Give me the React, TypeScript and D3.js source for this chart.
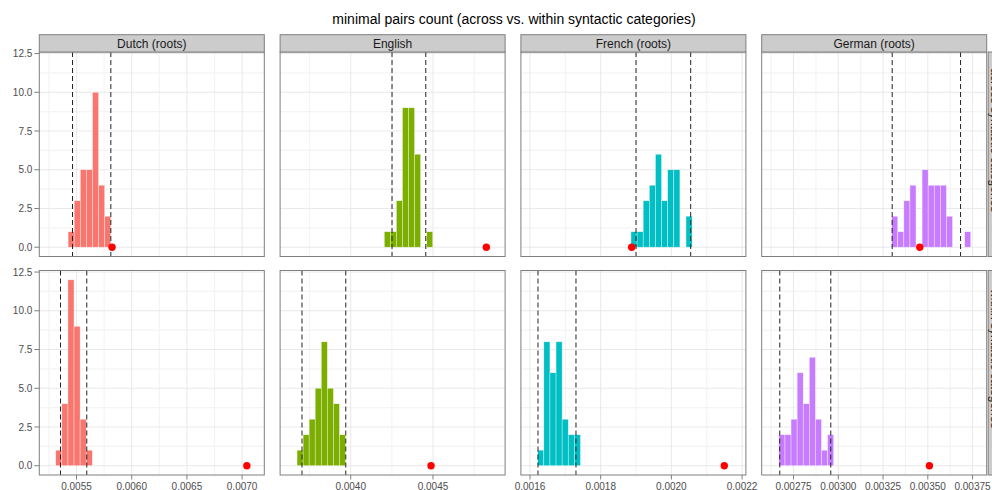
import React from "react";
import * as d3 from "d3";

// ---------- data ----------
const languages = ["Dutch (roots)", "English", "French (roots)", "German (roots)"];
const colors = ["#F8766D", "#7CAE00", "#00BFC4", "#C77CFF"];
const rowLabels = ["across syntactic categories", "within syntactic categories"];
const yTicks = [0, 2.5, 5, 7.5, 10, 12.5];
const yTickLabels = ["0.0", "2.5", "5.0", "7.5", "10.0", "12.5"];

const xDomains = [
  [0.005163, 0.007201],
  [0.003571, 0.004938],
  [0.0015743, 0.0022108],
  [0.002572, 0.003829],
];
const xTicks = [
  [0.0055, 0.006, 0.0065, 0.007],
  [0.004, 0.0045],
  [0.0016, 0.0018, 0.002, 0.0022],
  [0.00275, 0.003, 0.00325, 0.0035, 0.00375],
];
const xTickLabels = [
  ["0.0055", "0.0060", "0.0065", "0.0070"],
  ["0.0040", "0.0045"],
  ["0.0016", "0.0018", "0.0020", "0.0022"],
  ["0.00275", "0.00300", "0.00325", "0.00350", "0.00375"],
];
const binWidths = [0.0000552, 0.0000368, 0.0000173, 0.000034];

// row 0: across, row 1: within
const binStarts = [
  [0.005424, 0.004204, 0.0018857, 0.003298],
  [0.005312, 0.003674, 0.0016218, 0.002668],
];
const binCounts = [
  [
    [1, 3, 5, 5, 10, 4, 2],
    [1, 1, 3, 9, 9, 6, 0, 1],
    [1, 1, 3, 4, 6, 3, 5, 5, 0, 2],
    [2, 1, 3, 4, 0, 5, 4, 4, 4, 2, 0, 0, 1],
  ],
  [
    [1, 4, 12, 9, 3, 1],
    [1, 2, 3, 5, 8, 5, 4, 2],
    [1, 8, 6, 8, 3, 2, 2],
    [2, 2, 3, 6, 4, 7, 3, 1, 2],
  ],
];
const quantLow = [
  [0.005464, 0.004251, 0.0019, 0.003301],
  [0.005355, 0.003704, 0.0016226, 0.002673],
];
const quantHigh = [
  [0.005811, 0.004456, 0.0020546, 0.003683],
  [0.005593, 0.00397, 0.0017301, 0.002958],
];
const observed = [
  [0.005822, 0.004824, 0.0018877, 0.003455],
  [0.007043, 0.004488, 0.0021497, 0.003509],
];

// ---------- layout ----------
const W = 992;
const H = 490;
const panelLeft0 = 39.3;
const panelStep = 240.8;
const panelW = 225;
const rowTop = [52, 270.5];
const panelH = 204.5;
const stripTop = 34.7;
const font = "'Liberation Sans', Arial, Helvetica, sans-serif";

function minorTicks(majors: number[], dom: number[]) {
  const step = majors[1] - majors[0];
  const out: number[] = [];
  for (let v = majors[0] - step / 2; v <= dom[1]; v += step) {
    if (v >= dom[0]) out.push(v);
  }
  return out;
}

function Panel({ row, col }: { row: number; col: number }) {
  const left = panelLeft0 + col * panelStep;
  const top = rowTop[row];
  const x = d3.scaleLinear().domain(xDomains[col]).range([left, left + panelW]);
  const y = d3.scaleLinear().domain([-0.6, 12.6]).range([top + panelH, top]);
  const minorsX = minorTicks(xTicks[col], xDomains[col]);
  const minorsY = [1.25, 3.75, 6.25, 8.75, 11.25];
  const counts = binCounts[row][col];
  const bw = binWidths[col];
  const start = binStarts[row][col];
  return (
    <g>
      <rect x={left} y={top} width={panelW} height={panelH} fill="#FFFFFF" />
      {minorsX.map((v, i) => (
        <line key={"mx" + i} x1={x(v)} x2={x(v)} y1={top} y2={top + panelH} stroke="#F4F4F4" strokeWidth={1.2} />
      ))}
      {minorsY.map((v, i) => (
        <line key={"my" + i} x1={left} x2={left + panelW} y1={y(v)} y2={y(v)} stroke="#F4F4F4" strokeWidth={1.2} />
      ))}
      {xTicks[col].map((v, i) => (
        <line key={"Mx" + i} x1={x(v)} x2={x(v)} y1={top} y2={top + panelH} stroke="#E3E3E3" strokeWidth={0.8} />
      ))}
      {yTicks.map((v, i) => (
        <line key={"My" + i} x1={left} x2={left + panelW} y1={y(v)} y2={y(v)} stroke="#E3E3E3" strokeWidth={0.8} />
      ))}
      {counts.map((c, i) =>
        c > 0 ? (
          <rect
            key={"b" + i}
            x={x(start + i * bw)}
            width={x(start + (i + 1) * bw) - x(start + i * bw)}
            y={y(c)}
            height={y(0) - y(c)}
            fill={colors[col]}
            stroke="#FFFFFF"
            strokeOpacity={0.6}
            strokeWidth={0.6}
          />
        ) : null
      )}
      {[quantLow[row][col], quantHigh[row][col]].map((v, i) => (
        <line key={"q" + i} x1={x(v)} x2={x(v)} y1={top} y2={top + panelH} stroke="#222222" strokeWidth={1} strokeDasharray="5,3" />
      ))}
      <circle cx={x(observed[row][col])} cy={y(0)} r={3.7} fill="#FF0000" />
      <rect x={left} y={top} width={panelW} height={panelH} fill="none" stroke="#7F7F7F" strokeWidth={1} />
      {row === 0 && (
        <g>
          <rect x={left} y={stripTop} width={panelW} height={top - stripTop} fill="#CCCCCC" stroke="#7F7F7F" strokeWidth={1} />
          <text x={left + panelW / 2} y={(stripTop + top) / 2} dy="0.36em" textAnchor="middle" fontSize={12} fill="#1A1A1A" fontFamily={font}>
            {languages[col]}
          </text>
        </g>
      )}
      {col === 0 &&
        yTicks.map((v, i) => (
          <g key={"yt" + i}>
            <line x1={left - 5} x2={left} y1={y(v)} y2={y(v)} stroke="#7F7F7F" strokeWidth={1} />
            <text x={left - 7} y={y(v)} dy="0.36em" textAnchor="end" fontSize={10} fill="#4D4D4D" fontFamily={font}>
              {yTickLabels[i]}
            </text>
          </g>
        ))}
      {row === 1 &&
        xTicks[col].map((v, i) => (
          <g key={"xt" + i}>
            <line x1={x(v)} x2={x(v)} y1={top + panelH} y2={top + panelH + 4.5} stroke="#7F7F7F" strokeWidth={1} />
            <text x={x(v)} y={489.5} textAnchor="middle" fontSize={10} fill="#4D4D4D" fontFamily={font}>
              {xTickLabels[col][i]}
            </text>
          </g>
        ))}
      {col === 3 && (
        <g>
          <rect x={left + panelW + 1.5} y={top} width={17} height={panelH} fill="#CCCCCC" stroke="#7F7F7F" strokeWidth={1} />
          <text
            transform={`translate(${left + panelW + 4.2},${top + panelH / 2 - 14}) rotate(90)`}
            textAnchor="middle"
            fontSize={12}
            fill="#1A1A1A"
            fontFamily={font}
          >
            {rowLabels[row]}
          </text>
        </g>
      )}
    </g>
  );
}

export default function App() {
  const cells: { row: number; col: number }[] = [];
  for (let r = 0; r < 2; r++) for (let c = 0; c < 4; c++) cells.push({ row: r, col: c });
  return (
    <svg
      width={W}
      height={H}
      style={{ position: "absolute", left: 0, top: 0, background: "#FFFFFF" }}
      xmlns="http://www.w3.org/2000/svg"
    >
      <rect x={0} y={0} width={W} height={H} fill="#FFFFFF" />
      <text x={514} y={24} textAnchor="middle" fontSize={14} fill="#000000" fontFamily={font}>
        minimal pairs count (across vs. within syntactic categories)
      </text>
      {cells.map((c) => (
        <Panel key={c.row + "-" + c.col} row={c.row} col={c.col} />
      ))}
    </svg>
  );
}
